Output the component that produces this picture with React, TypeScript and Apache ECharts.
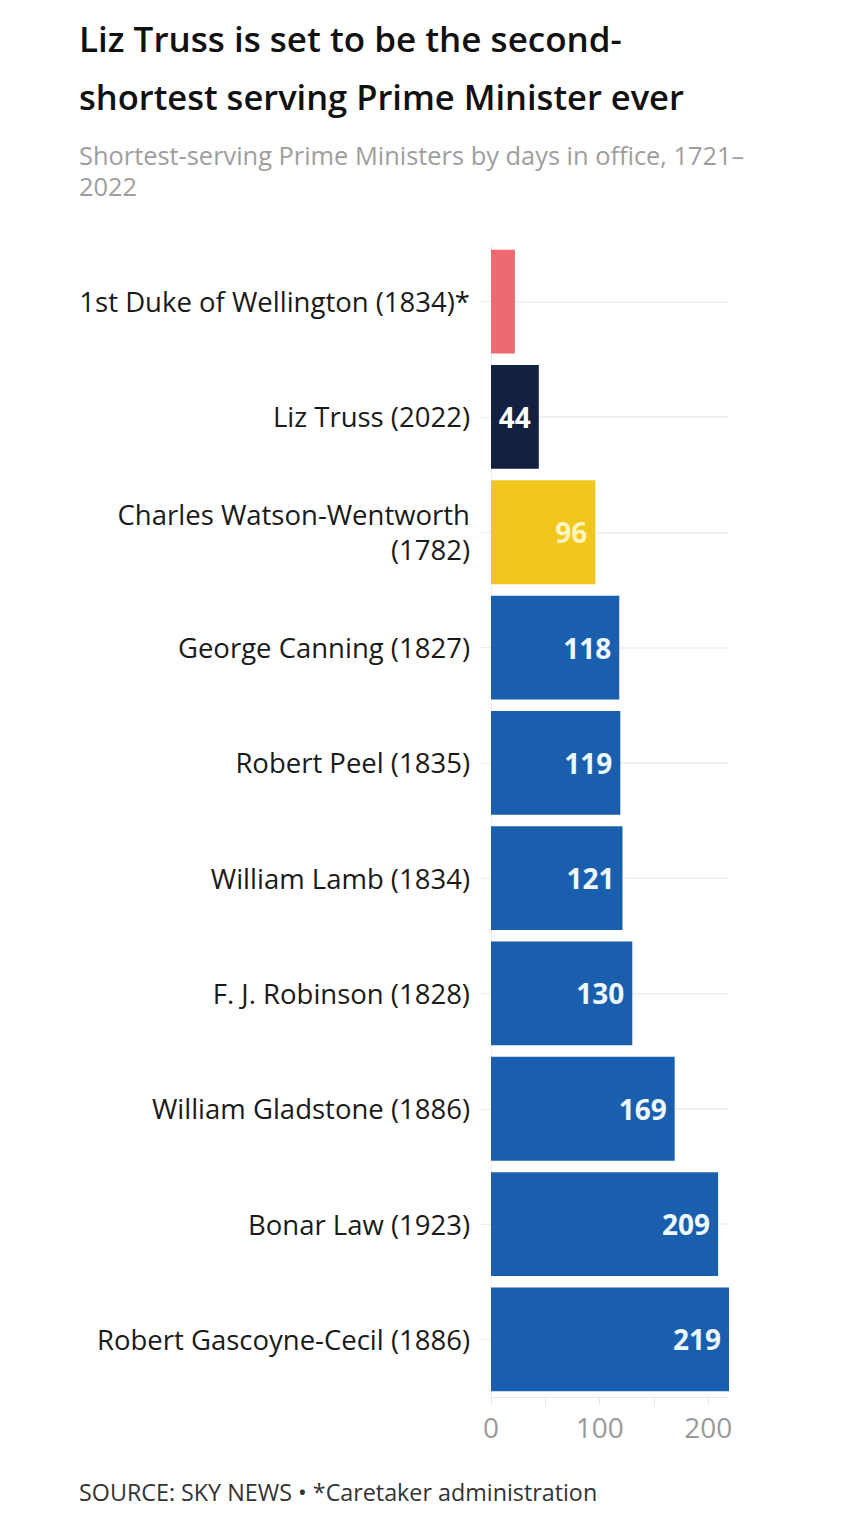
import { useEffect, useRef } from "react";
import * as echarts from "echarts";

const categories = [
  "1st Duke of Wellington (1834)*",
  "Liz Truss (2022)",
  "Charles Watson-Wentworth\n(1782)",
  "George Canning (1827)",
  "Robert Peel (1835)",
  "William Lamb (1834)",
  "F. J. Robinson (1828)",
  "William Gladstone (1886)",
  "Bonar Law (1923)",
  "Robert Gascoyne-Cecil (1886)",
];
const days = [22, 44, 96, 118, 119, 121, 130, 169, 209, 219];
const barColors = [
  "#ee6a70",
  "#13203f",
  "#f1c71d",
  "#1a5fae",
  "#1a5fae",
  "#1a5fae",
  "#1a5fae",
  "#1a5fae",
  "#1a5fae",
  "#1a5fae",
];
const labelColors = [
  "#ffffff",
  "#ffffff",
  "#fff4c4",
  "#eef8ff",
  "#eef8ff",
  "#eef8ff",
  "#eef8ff",
  "#eef8ff",
  "#eef8ff",
  "#eef8ff",
];
const showValueLabel = [false, true, true, true, true, true, true, true, true, true];
const tickValues = [0, 50, 100, 150, 200];
const tickLabelValues = [0, 100, 200];

const titleLines = ["Liz Truss is set to be the second-", "shortest serving Prime Minister ever"];
const subtitleLines = ["Shortest-serving Prime Ministers by days in office, 1721–", "2022"];
const footerText = "SOURCE: SKY NEWS • *Caretaker administration";

const FONT = "'Open Sans', 'Noto Sans', sans-serif";

export default function App() {
  const ref = useRef<HTMLDivElement>(null);

  useEffect(() => {
    if (!ref.current) return;
    const chart = echarts.init(ref.current, undefined, { renderer: "svg" });

    const graphics: any[] = [];
    const titleY = [38, 96];
    const titleSizes = [35, 34.5];
    titleLines.forEach((t, i) => {
      graphics.push({
        type: "text",
        x: 79,
        y: titleY[i],
        style: {
          text: t,
          font: `600 ${titleSizes[i]}px ${FONT}`,
          fill: "#111111",
          verticalAlign: "middle",
        },
      });
    });
    const subY = [155, 186];
    subtitleLines.forEach((t, i) => {
      graphics.push({
        type: "text",
        x: 79,
        y: subY[i],
        style: {
          text: t,
          font: `400 25.4px ${FONT}`,
          fill: "#9e9e9e",
          verticalAlign: "middle",
        },
      });
    });
    graphics.push({
      type: "text",
      x: 79,
      y: 1492,
      style: {
        text: footerText,
        font: `400 23.3px ${FONT}`,
        fill: "#333333",
        verticalAlign: "middle",
      },
    });

    chart.setOption({
      animation: false,
      backgroundColor: "#ffffff",
      textStyle: { fontFamily: FONT },
      graphic: graphics,
      grid: {
        left: 491,
        right: 121,
        top: 244,
        bottom: 123,
        containLabel: false,
      },
      xAxis: {
        type: "value",
        min: 0,
        max: 219,
        interval: 50,
        splitLine: { show: false },
        axisLine: { show: true, lineStyle: { color: "#e6e6e6", width: 1 } },
        axisTick: {
          show: true,
          length: 8,
          lineStyle: { color: "#e6e6e6" },
          customValues: tickValues,
        },
        axisLabel: {
          customValues: tickLabelValues,
          color: "#9a9a9a",
          fontSize: 28,
          fontFamily: FONT,
          margin: 16,
        },
      },
      yAxis: {
        type: "category",
        inverse: true,
        data: categories,
        axisLine: { show: true, lineStyle: { color: "#eeeeee" } },
        axisTick: {
          show: true,
          alignWithLabel: true,
          length: 12,
          lineStyle: { color: "#eeeeee" },
        },
        axisLabel: {
          color: "#1a1a1a",
          fontSize: 27.5,
          fontFamily: FONT,
          margin: 21,
          lineHeight: 35,
          align: "right",
        },
        splitLine: { show: false },
      },
      series: [
        {
          type: "line",
          data: [],
          z: 1,
          silent: true,
          markLine: {
            silent: true,
            z: 1,
            symbol: ["none", "none"],
            label: { show: false },
            lineStyle: { color: "#eeeeee", width: 1.5, type: "solid" },
            data: categories.map((c) => ({ yAxis: c })),
          },
        },
        {
          type: "bar",
          z: 3,
          barCategoryGap: "10%",
          data: days.map((v, i) => ({
            value: v,
            itemStyle: { color: barColors[i] },
            label: {
              show: showValueLabel[i],
              color: labelColors[i],
            },
          })),
          label: {
            show: true,
            position: "insideRight",
            distance: 8,
            fontSize: 28,
            fontWeight: "bold",
            fontFamily: FONT,
          },
        },
      ],
    });

    return () => chart.dispose();
  }, []);

  return (
    <div
      ref={ref}
      style={{ position: "absolute", left: 0, top: 0, width: 850, height: 1520 }}
    />
  );
}
